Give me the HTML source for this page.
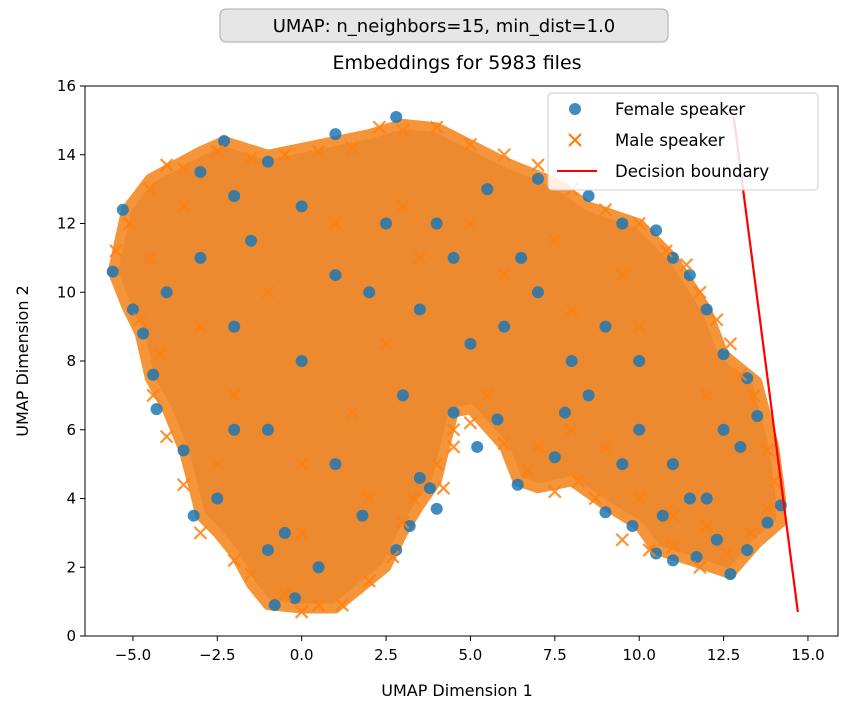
<!DOCTYPE html>
<html><head><meta charset="utf-8">
<style>
body{margin:0;background:#fff;font-family:"Liberation Sans","DejaVu Sans",sans-serif;}
svg text{font-family:"DejaVu Sans","Liberation Sans",sans-serif;}
</style></head>
<body>
<svg id="chart" width="843" height="715" xmlns="http://www.w3.org/2000/svg">
<rect x="0" y="0" width="843" height="715" fill="#fff"/>
<rect x="220" y="9" width="448" height="33" rx="6" fill="#e6e6e6" stroke="#aaa" stroke-width="1"/>
<text x="444" y="32" font-size="18" text-anchor="middle" fill="#000">UMAP: n_neighbors=15, min_dist=1.0</text>
<text x="457" y="69" font-size="19" text-anchor="middle" fill="#000">Embeddings for 5983 files</text>
<g id="plot"></g>
<rect x="85" y="86" width="753" height="550" fill="none" stroke="#000" stroke-width="1"/>
<g id="axes"></g>
<text x="457" y="696" font-size="16" text-anchor="middle">UMAP Dimension 1</text>
<text x="28" y="361" font-size="16" text-anchor="middle" transform="rotate(-90 28 361)">UMAP Dimension 2</text>
<g>
<rect x="548" y="93" width="270" height="97" rx="4" fill="#fff" fill-opacity="0.85" stroke="#ccc"/>
<g>
<circle cx="575" cy="109" r="6" fill="#1f77b4" fill-opacity="0.85"/>
<text x="615" y="115" font-size="16.5">Female speaker</text></g>
<g>
<path d="M569,134 l12,12 M581,134 l-12,12" stroke="#ff7f0e" stroke-width="2.2"/>
<text x="615" y="146" font-size="16.5">Male speaker</text></g>
<g>
<line x1="557" y1="171" x2="597" y2="171" stroke="#ff0000" stroke-width="2"/>
<text x="615" y="177" font-size="16.5">Decision boundary</text></g>
</g>
</svg>
<script>
const xTicks=[-5.0,-2.5,0.0,2.5,5.0,7.5,10.0,12.5,15.0];
const yTicks=[0,2,4,6,8,10,12,14,16];
const hull=[[-5.6,10.6],[-5.2,12.4],[-4.5,13.3],[-3,14.1],[-2.3,14.4],[-1,14],[0.5,14.3],[2,14.6],[3,14.9],[4,14.8],[5,14.3],[6,13.8],[7.5,13.2],[8.5,12.5],[10,12],[11,11],[12,9.5],[12.5,8.2],[13.5,7.4],[14,5.5],[14.2,4],[14.2,3.3],[13.5,2.7],[12.7,1.8],[11.5,2.2],[10.5,2.5],[10,3.2],[9,3.8],[8,4.5],[7,4.3],[6.4,4.5],[6,5.5],[5,6.6],[4.5,6.5],[4,4.5],[3.5,3.8],[3,3],[2.5,2],[1.5,1.2],[1,0.8],[0,0.8],[-1,0.9],[-1.5,1.5],[-2,2.4],[-2.5,3],[-3,3.5],[-3.2,4.3],[-3.5,5.4],[-4,6.6],[-4.5,7.5],[-4.8,8.8],[-5.2,9.6]];
const femaleX=[-5.6,-5.3,-5,-4.7,-4.4,-4.3,-3.5,-3.2,-2.3,-1,1,2.8,4.5,4,3.8,3.5,3.2,2.8,6.4,7.5,9,9.8,10.5,11,11.7,12.7,13.2,13.8,14.2,13.5,13.2,12.5,12,11.5,11,10.5,9.5,8.5,7,5.5,6,5,3,0,-2,-1,1,-0.5,0.5,2,8,10,11,12,9,7,4,-3,-4,-1.5,1,3.5,6.5,10,12.5,-2,-0.2,-0.8,5.8,5.2,7.8,8.5,13,11.5,-3,-2,0,2.5,4.5,-2.5,-1,1.8,9.5,10.7,12.3];
const femaleY=[10.6,12.4,9.5,8.8,7.6,6.6,5.4,3.5,14.4,13.8,14.6,15.1,6.5,3.7,4.3,4.6,3.2,2.5,4.4,5.2,3.6,3.2,2.4,2.2,2.3,1.8,2.5,3.3,3.8,6.4,7.5,8.2,9.5,10.5,11,11.8,12,12.8,13.3,13,9,8.5,7,8,9,6,5,3,2,10,8,6,5,4,9,10,12,11,10,11.5,10.5,9.5,11,8,6,6,1.1,0.9,6.3,5.5,6.5,7,5.5,4,13.5,12.8,12.5,12,11,4,2.5,3.5,5,3.5,2.8];
const maleX=[-5.5,-5.1,-4.5,-4,-3.5,-4.8,-4.2,-4.4,-4,-3.5,-3,-2,-1.5,-0.5,0,0.5,1.2,2,2.7,3,3.3,4,4.5,5,6,6.7,7.5,8.2,8.7,9.5,10.3,11,11.8,12.6,13.3,13.8,14,13.8,13.4,13,12.7,12.3,11.8,11.4,10.8,10,9,8,7,6,5,4,3,2.3,1.5,0.5,-0.5,-1.5,-2.5,5.5,4.5,4.2,7,8,9,10,11,12,-3,-2,0,1.5,2.5,3.5,6,8,10,12,-1,1,3,5,7.5,9.5,-2.5,0,2,-4.5,-3.5];
const maleY=[11.2,12,13,13.7,13.6,9.2,8.2,7,5.8,4.4,3,2.2,1.8,1.2,0.7,0.9,0.9,1.6,2.3,3.3,4,5,5.5,6.2,5.6,4.8,4.2,4.5,4,2.8,2.5,2.6,2,2.4,3,3.7,4.5,5.4,7,7.6,8.5,9.2,10,10.8,11.2,12,12.4,13,13.7,14,14.3,14.8,14.7,14.8,14.2,14.1,14,13.9,14.1,7,6,4.3,5.5,6,5.5,4,3.5,3.2,9,7,5,6.5,8.5,11,10.5,9.5,9,7,10,12,12.5,12,11.5,10.5,5,3,4,11,12.5];
const boundaryX=[12.8,14.7];
const boundaryY=[15.1,0.7];
const NS='http://www.w3.org/2000/svg';
const X0=85,X1=838,Y0=636,Y1=86,XMIN=-6.42,XMAX=15.89,YMIN=0,YMAX=16;
function sx(v){return X0+(v-XMIN)/(XMAX-XMIN)*(X1-X0);}
function sy(v){return Y0-(v-YMIN)/(YMAX-YMIN)*(Y0-Y1);}
function mk(t,a,p){const e=document.createElementNS(NS,t);for(const k in a)e.setAttribute(k,a[k]);p.appendChild(e);return e;}
const plot=document.getElementById('plot');
const axes=document.getElementById('axes');
const hp=hull.map(p=>sx(p[0]).toFixed(1)+','+sy(p[1]).toFixed(1)).join(' ');
const h=mk('polygon',{points:hp,fill:'#ed8a30','stroke':'#f59438','stroke-width':10,'stroke-linejoin':'round'},plot);


for(let i=0;i<femaleX.length;i++){
 const c=mk('circle',{cx:sx(femaleX[i]),cy:sy(femaleY[i]),r:6,fill:'#1f77b4','fill-opacity':0.85},plot);
 
 
}
for(let i=0;i<maleX.length;i++){
 const x=sx(maleX[i]),y=sy(maleY[i]);
 const p=mk('path',{d:`M${x-6},${y-6} l12,12 M${x+6},${y-6} l-12,12`,stroke:'#ff7f0e','stroke-width':2.2,'stroke-opacity':0.85},plot);
 
 
}
const bl=mk('line',{x1:sx(boundaryX[0]),y1:sy(boundaryY[0]),x2:sx(boundaryX[1]),y2:sy(boundaryY[1]),stroke:'#ff0000','stroke-width':2.2},plot);


xTicks.forEach(t=>{
 const x=sx(t);
 const l=mk('line',{x1:x,y1:Y0,x2:x,y2:Y0+5,stroke:'#000'},axes);
 
 
 const tx=mk('text',{x:x,y:Y0+24,'font-size':15,'text-anchor':'middle'},axes);
 tx.textContent=t.toFixed(1).replace('-','\u2212');
 
 
});
yTicks.forEach(t=>{
 const y=sy(t);
 const l=mk('line',{x1:X0-5,y1:y,x2:X0,y2:y,stroke:'#000'},axes);
 
 
 const tx=mk('text',{x:X0-9,y:y+5,'font-size':15,'text-anchor':'end'},axes);
 tx.textContent=String(t);
 
 
});
</script>
</body></html>
